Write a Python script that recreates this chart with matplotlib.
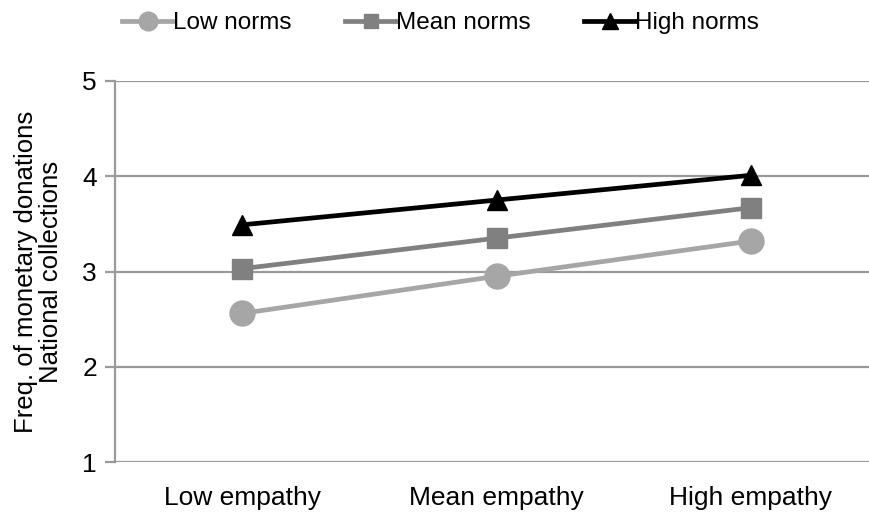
import numpy as np
import matplotlib.pyplot as plt

plt.rcParams['font.family'] = ['Liberation Sans', 'DejaVu Sans']

categories = ['Low empathy', 'Mean empathy', 'High empathy']
low_norms = [2.56, 2.95, 3.32]
mean_norms = [3.03, 3.35, 3.67]
high_norms = [3.49, 3.75, 4.01]
yticks = [1, 2, 3, 4, 5]

fig = plt.figure(figsize=(8.69, 5.12), dpi=100)
# axes extends past right edge, like the original
ax = fig.add_axes([115 / 869, 50 / 512, 763 / 869, 381 / 512])

x = np.arange(len(categories))
ax.plot(x, low_norms, color='#A6A6A6', lw=3.4, marker='o', ms=18, label='Low norms', zorder=3)
ax.plot(x, mean_norms, color='#808080', lw=3.4, marker='s', ms=14, label='Mean norms', zorder=3)
ax.plot(x, high_norms, color='#000000', lw=3.4, marker='^', ms=15, label='High norms', zorder=3)

ax.set_xlim(-0.5, 2.5)
ax.set_ylim(1, 5)
ax.set_yticks(yticks)
ax.set_xticks(x)
ax.set_xticklabels(categories)
ax.grid(axis='y', color='#9A9A9A', lw=1.6)
ax.set_axisbelow(True)
for s in ['top', 'right', 'bottom']:
    ax.spines[s].set_visible(False)
ax.spines['left'].set_color('#9A9A9A')
ax.spines['left'].set_linewidth(1.6)
ax.tick_params(axis='y', length=7, width=1.6, color='#9A9A9A', labelsize=19, pad=6)
ax.tick_params(axis='x', length=0, labelsize=19, pad=17)
ax.set_ylabel('Freq. of monetary donations\nNational collections', fontsize=18.5, labelpad=14, linespacing=1.05)

fig.legend(loc='center', bbox_to_anchor=(0.507, 0.955), ncol=3, frameon=False,
           fontsize=17.5, handlelength=2.1, handletextpad=0.0, columnspacing=2.2, markerscale=0.75)

fig.savefig('out.png', dpi=100)
